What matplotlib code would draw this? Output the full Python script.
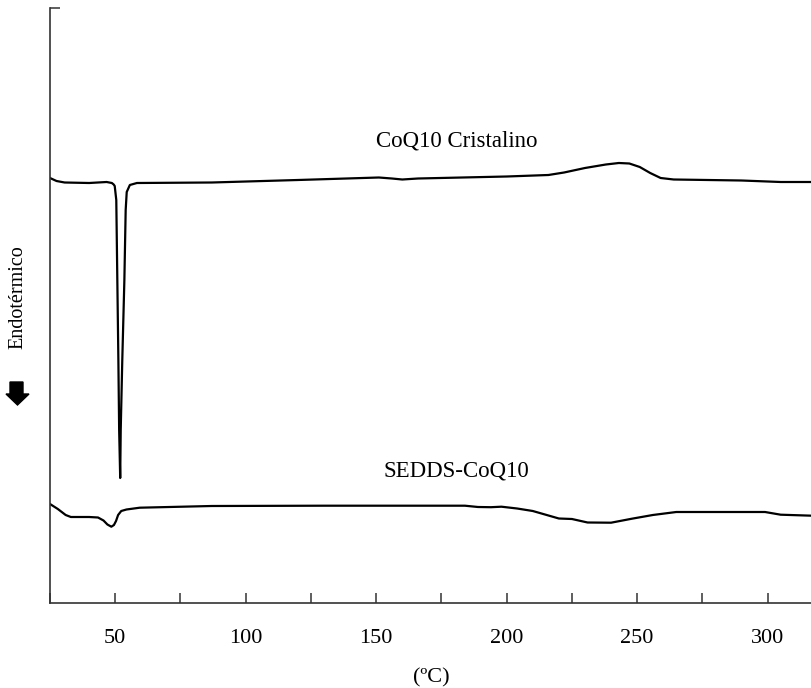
import numpy as np
import matplotlib
matplotlib.use("Agg")
import matplotlib.pyplot as plt
from matplotlib.patches import Polygon

# -- data (temperature in C, signal in arbitrary units) --
t_coq10 = [25, 27.5, 30.6, 40, 46.7, 48.7, 49.4, 49.8, 50.4, 50.8, 51.2, 51.5, 51.9,
           52.1, 52.7, 53.5, 54.0, 54.4, 55.6, 58.3, 87, 120, 151, 156, 160, 166,
           200, 216, 222, 230, 238, 243, 247, 251, 255, 259, 264, 290, 305, 317]
y_coq10 = [4.25, 4.22, 4.205, 4.20, 4.21, 4.20, 4.185, 4.17, 4.03, 3.23, 2.43, 1.73, 1.25,
           1.73, 2.43, 3.23, 3.93, 4.11, 4.18, 4.20, 4.205, 4.23, 4.255, 4.245, 4.235, 4.245,
           4.265, 4.28, 4.305, 4.35, 4.385, 4.40, 4.395, 4.36, 4.30, 4.25, 4.235, 4.225, 4.21, 4.21]

t_sedds = [25, 28, 31, 33, 40, 43.4, 45.5, 47, 48.5, 49.5, 50.3, 51.1, 52.3, 54.3, 59.4,
           87, 130, 170, 184, 189, 194, 198, 204, 210, 220, 225, 231, 240, 248, 256,
           265, 299, 305, 317]
y_sedds = [0.99, 0.94, 0.88, 0.86, 0.86, 0.855, 0.825, 0.785, 0.763, 0.78, 0.82, 0.88, 0.92,
           0.935, 0.953, 0.97, 0.973, 0.973, 0.973, 0.96, 0.958, 0.963, 0.945, 0.92, 0.845,
           0.84, 0.805, 0.803, 0.843, 0.88, 0.91, 0.91, 0.883, 0.873]

labels = ["CoQ10 Cristalino", "SEDDS-CoQ10"]
label_pos = [(180.7, 4.62), (180.7, 1.32)]
xticks = [25, 50, 75, 100, 125, 150, 175, 200, 225, 250, 275, 300]
xticklabels = ["", "50", "", "100", "", "150", "", "200", "", "250", "", "300"]

plt.rcParams['font.family'] = ['Liberation Serif', 'DejaVu Serif']

fig = plt.figure(figsize=(8.12, 6.88), dpi=100)
ax = fig.add_axes([50 / 812, 85 / 688, 762 / 812, 595 / 688])

ax.plot(t_coq10, y_coq10, color='black', lw=1.6, solid_joinstyle='round')
ax.plot(t_sedds, y_sedds, color='black', lw=1.6, solid_joinstyle='round')

for txt, (tx, ty) in zip(labels, label_pos):
    ax.text(tx, ty, txt, ha='center', va='center', fontsize=16.5)

ax.set_xlim(25, 317)
ax.set_ylim(0, 5.95)
ax.set_xticks(xticks)
ax.set_xticklabels(xticklabels)
ax.set_yticks([5.95])
ax.set_yticklabels([""])
ax.tick_params(axis='both', direction='in', length=7, width=1.1, color='#333333',
               labelsize=16, pad=19)
ax.set_xlabel("(ºC)", fontsize=16, labelpad=14)

for side in ['top', 'right']:
    ax.spines[side].set_visible(False)
for side in ['left', 'bottom']:
    ax.spines[side].set_color('#333333')
    ax.spines[side].set_linewidth(1.2)

# y label and the downward "endothermic" arrow
fig.text(18 / 812, 1 - 297 / 688, "Endotérmico", rotation=90, ha='center', va='center',
         fontsize=14.5)
arrow = [(0.10, 3.06), (0.23, 3.06), (0.23, 2.94), (0.29, 2.94), (0.175, 2.83),
         (0.06, 2.94), (0.10, 2.94)]
fig.add_artist(Polygon(arrow, closed=True, color='black', transform=fig.dpi_scale_trans))

fig.savefig("out.png", dpi=100)
